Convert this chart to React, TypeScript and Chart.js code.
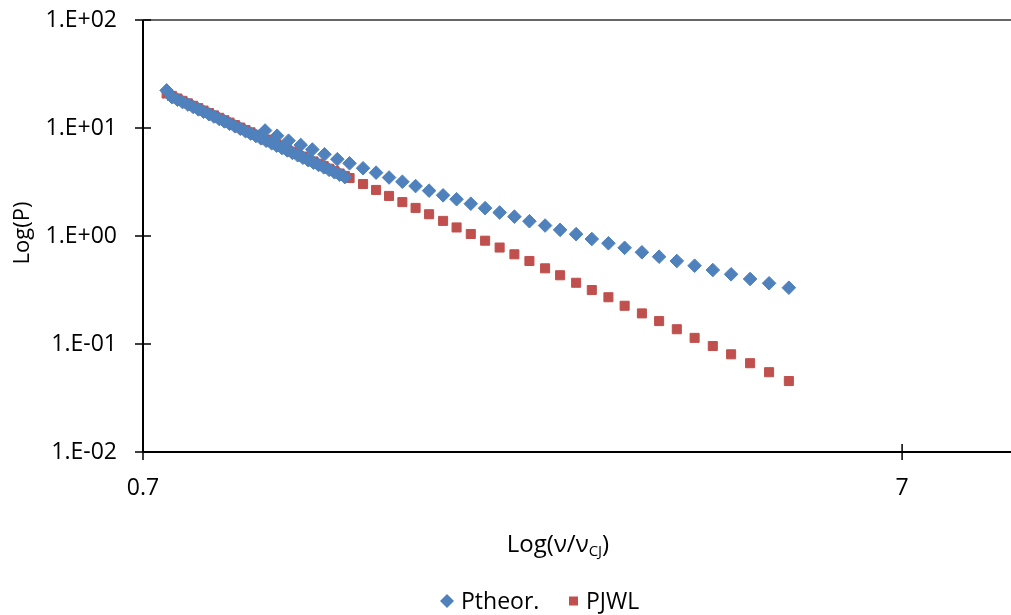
import React, { useEffect, useRef } from "react";
import { Chart, registerables } from "chart.js";

Chart.register(...registerables);

// Theoretical pressure: dense early branch followed by the sparse branch
const theorV = [
  0.752, 0.764, 0.777, 0.789, 0.802, 0.815, 0.828, 0.841, 0.855, 0.868,
  0.882, 0.896, 0.91, 0.925, 0.94, 0.955, 0.97, 0.986, 1.001, 1.017,
  1.034, 1.05, 1.067, 1.084, 1.101, 1.119, 1.137, 1.155, 1.174, 1.192,
  1.211, 1.231, 1.251, 1.271, 1.291,
  1.0137, 1.0513, 1.0886, 1.1295, 1.17, 1.2141, 1.2621, 1.3098, 1.3646, 1.4195,
  1.4765, 1.5374, 1.6002, 1.6671, 1.7394, 1.8121, 1.892, 1.976, 2.0649, 2.1596,
  2.2602, 2.3703, 2.4806, 2.6042, 2.7311, 2.8722, 3.0169, 3.1793, 3.3496, 3.5344,
  3.7304, 3.9421, 4.1672, 4.4141, 4.6758, 4.9649,
];
const theorP = [
  22.3, 19.33, 18.29, 17.39, 16.5, 15.66, 14.88, 14.14, 13.41, 12.76,
  12.12, 11.51, 10.94, 10.37, 9.85, 9.35, 8.89, 8.43, 8.02, 7.62,
  7.22, 6.87, 6.52, 6.2, 5.89, 5.59, 5.3, 5.04, 4.78, 4.55,
  4.33, 4.1, 3.89, 3.7, 3.51,
  9.48, 8.49, 7.63, 6.96, 6.32, 5.71, 5.14, 4.71, 4.24, 3.86,
  3.48, 3.18, 2.9, 2.63, 2.38, 2.19, 1.99, 1.81, 1.65, 1.51,
  1.37, 1.25, 1.14, 1.04, 0.938, 0.856, 0.777, 0.707, 0.643, 0.587,
  0.531, 0.484, 0.442, 0.4, 0.365, 0.332,
];

// JWL pressure
const jwlV = [
  0.752, 0.764, 0.777, 0.789, 0.802, 0.815, 0.828, 0.841, 0.855, 0.868,
  0.882, 0.896, 0.91, 0.925, 0.94, 0.955, 0.97, 0.986, 1.001, 1.017,
  1.034, 1.05, 1.067, 1.084, 1.101, 1.119, 1.137, 1.155, 1.174, 1.192,
  1.211, 1.231, 1.251, 1.271, 1.291,
  1.3098, 1.3646, 1.4195, 1.4765, 1.5374, 1.6002, 1.6671, 1.7394, 1.8121, 1.892,
  1.976, 2.0649, 2.1596, 2.2602, 2.3703, 2.4806, 2.6042, 2.7311, 2.8722, 3.0169,
  3.1793, 3.3496, 3.5344, 3.7304, 3.9421, 4.1672, 4.4141, 4.6758, 4.9649,
];
const jwlP = [
  20.86, 19.82, 18.76, 17.84, 16.92, 16.06, 15.26, 14.5, 13.75, 13.09,
  12.43, 11.8, 11.22, 10.64, 10.1, 9.59, 9.12, 8.65, 8.23, 7.82,
  7.41, 7.05, 6.69, 6.36, 6.04, 5.73, 5.44, 5.17, 4.9, 4.67,
  4.44, 4.2, 3.99, 3.79, 3.6,
  3.44, 3.03, 2.67, 2.35, 2.06, 1.82, 1.59, 1.38, 1.2, 1.044,
  0.905, 0.782, 0.677, 0.587, 0.502, 0.433, 0.369, 0.316, 0.271, 0.226,
  0.192, 0.163, 0.137, 0.114, 0.0958, 0.0803, 0.0664, 0.0548, 0.0454,
];

const xTickValues = [0.7, 7];
const xTickLabels = ["0.7", "7"];
const yTickValues = [0.01, 0.1, 1, 10, 100];
const yTickLabels = ["1.E-02", "1.E-01", "1.E+00", "1.E+01", "1.E+02"];

const seriesNames = ["Ptheor.", "PJWL"];
const BLUE = "#4F81BD";
const RED = "#C0504D";
const FONT = "'Open Sans', sans-serif";

// Axis lines, cross tick marks, titles and legend
const framePlugin = {
  id: "frame",
  beforeDatasetsDraw(chart: any) {
    const { ctx, chartArea, scales } = chart;
    const { left, right, top, bottom } = chartArea;
    ctx.save();
    ctx.strokeStyle = "#000";
    ctx.lineWidth = 2;
    ctx.beginPath();
    ctx.moveTo(left, top);
    ctx.lineTo(left, bottom);
    ctx.moveTo(left, bottom);
    ctx.lineTo(right, bottom);
    ctx.stroke();
    ctx.strokeStyle = "#333";
    ctx.lineWidth = 1.5;
    ctx.beginPath();
    ctx.moveTo(left, top);
    ctx.lineTo(right, top);
    ctx.stroke();
    ctx.strokeStyle = "#000";
    ctx.lineWidth = 1.5;
    ctx.beginPath();
    for (const v of yTickValues) {
      const py = scales.y.getPixelForValue(v);
      ctx.moveTo(left - 8, py);
      ctx.lineTo(left + 8, py);
    }
    for (const v of xTickValues) {
      const px = scales.x.getPixelForValue(v);
      ctx.moveTo(px, bottom - 8);
      ctx.lineTo(px, bottom + 8);
    }
    ctx.stroke();
    ctx.restore();
  },
  afterDraw(chart: any) {
    const { ctx } = chart;
    ctx.save();
    ctx.fillStyle = "#000";
    ctx.textBaseline = "alphabetic";

    // x-axis title with subscript
    const main = `24px ${FONT}`;
    const sub = `15px ${FONT}`;
    ctx.font = main;
    const p1 = "Log(ν/ν";
    const p3 = ")";
    const w1 = ctx.measureText(p1).width;
    const w3 = ctx.measureText(p3).width;
    ctx.font = sub;
    const p2 = "CJ";
    const w2 = ctx.measureText(p2).width;
    const total = w1 + w2 + w3;
    const x0 = 558 - total / 2;
    const base = 552;
    ctx.font = main;
    ctx.textAlign = "left";
    ctx.fillText(p1, x0, base);
    ctx.font = sub;
    ctx.fillText(p2, x0 + w1, base + 4);
    ctx.font = main;
    ctx.fillText(p3, x0 + w1 + w2, base);

    // y-axis title
    ctx.save();
    ctx.translate(29, 233);
    ctx.rotate(-Math.PI / 2);
    ctx.textAlign = "center";
    ctx.font = `22px ${FONT}`;
    ctx.fillText("Log(P)", 0, 0);
    ctx.restore();

    // legend
    const ly = 601;
    ctx.fillStyle = BLUE;
    ctx.beginPath();
    ctx.moveTo(447, ly - 7);
    ctx.lineTo(454, ly);
    ctx.lineTo(447, ly + 7);
    ctx.lineTo(440, ly);
    ctx.closePath();
    ctx.fill();
    ctx.fillStyle = RED;
    ctx.fillRect(569, ly - 4.5, 9, 9);
    ctx.fillStyle = "#000";
    ctx.font = `23px ${FONT}`;
    ctx.textAlign = "left";
    ctx.fillText(seriesNames[0], 461, ly + 8);
    ctx.fillText(seriesNames[1], 586, ly + 8);
    ctx.restore();
  },
};

export default function App() {
  const canvasRef = useRef<HTMLCanvasElement | null>(null);

  useEffect(() => {
    document.body.style.margin = "0";
    const canvas = canvasRef.current;
    if (!canvas) return;
    const theorPts = theorV.map((v, i) => ({ x: v, y: theorP[i] }));
    const jwlPts = jwlV.map((v, i) => ({ x: v, y: jwlP[i] }));

    const chart = new Chart(canvas, {
      type: "scatter",
      data: {
        datasets: [
          {
            label: seriesNames[0],
            data: theorPts,
            pointStyle: "rectRot",
            pointRadius: 6.8,
            pointBackgroundColor: BLUE,
            pointBorderColor: BLUE,
            pointBorderWidth: 1,
          },
          {
            label: seriesNames[1],
            data: jwlPts,
            pointStyle: "rect",
            pointRadius: 6.4,
            pointBackgroundColor: RED,
            pointBorderColor: RED,
            pointBorderWidth: 1,
          },
        ],
      },
      options: {
        animation: false,
        responsive: false,
        maintainAspectRatio: false,
        layout: { autoPadding: false, padding: { top: 20, right: 0, left: 0, bottom: 0 } },
        plugins: {
          legend: { display: false },
          tooltip: { enabled: false },
        },
        scales: {
          x: {
            type: "logarithmic",
            min: 0.7,
            max: 9.74,
            grid: { display: false, drawTicks: false },
            border: { display: false },
            afterBuildTicks: (scale: any) => {
              scale.ticks = xTickValues.map((value) => ({ value }));
            },
            afterFit: (scale: any) => {
              scale.height = 163;
              scale.paddingLeft = 0;
              scale.paddingRight = 0;
            },
            ticks: {
              autoSkip: false,
              maxRotation: 0,
              padding: 23,
              color: "#000",
              font: { family: FONT, size: 23 },
              callback: (value: any) => {
                const i = xTickValues.indexOf(Number(value));
                return i >= 0 ? xTickLabels[i] : "";
              },
            },
          },
          y: {
            type: "logarithmic",
            min: 0.01,
            max: 100,
            grid: { display: false, drawTicks: false },
            border: { display: false },
            afterBuildTicks: (scale: any) => {
              scale.ticks = yTickValues.map((value) => ({ value }));
            },
            afterFit: (scale: any) => {
              scale.width = 143;
              scale.paddingTop = 0;
              scale.paddingBottom = 0;
            },
            ticks: {
              autoSkip: false,
              padding: 26,
              color: "#000",
              font: { family: FONT, size: 23 },
              callback: (value: any) => {
                const i = yTickValues.indexOf(Number(value));
                return i >= 0 ? yTickLabels[i] : "";
              },
            },
          },
        },
      },
      plugins: [framePlugin],
    });
    return () => chart.destroy();
  }, []);

  return (
    <div style={{ width: 1011, height: 615 }}>
      <canvas ref={canvasRef} width={1011} height={615} style={{ display: "block" }} />
    </div>
  );
}
